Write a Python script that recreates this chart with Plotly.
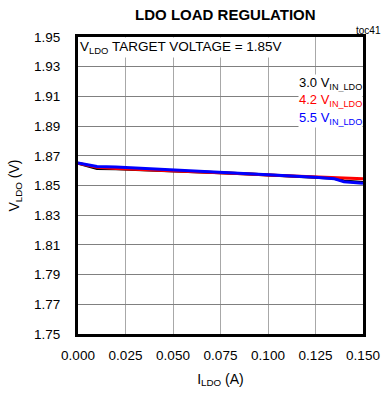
import plotly.graph_objects as go

i_ldo = [0.000, 0.005, 0.010, 0.020, 0.030, 0.040, 0.050, 0.060, 0.075, 0.090, 0.100, 0.110, 0.125, 0.135, 0.140, 0.150]
v_30 = [1.8650, 1.8630, 1.8615, 1.8612, 1.8608, 1.8603, 1.8598, 1.8592, 1.8586, 1.8578, 1.8572, 1.8566, 1.8558, 1.8548, 1.8530, 1.8520]
v_42 = [1.8650, 1.8635, 1.8622, 1.8614, 1.8609, 1.8605, 1.8601, 1.8597, 1.8588, 1.8577, 1.8570, 1.8565, 1.8559, 1.8554, 1.8550, 1.8545]
v_55 = [1.8652, 1.8640, 1.8628, 1.8625, 1.8619, 1.8610, 1.8604, 1.8596, 1.8588, 1.8580, 1.8572, 1.8565, 1.8556, 1.8545, 1.8525, 1.8515]

series = [("3.0", v_30, "black"), ("4.2", v_42, "red"), ("5.5", v_55, "blue")]
x_ticks = [0.000, 0.025, 0.050, 0.075, 0.100, 0.125, 0.150]
y_ticks = [1.75, 1.77, 1.79, 1.81, 1.83, 1.85, 1.87, 1.89, 1.91, 1.93, 1.95]

fig = go.Figure()
for name, v, c in series:
    fig.add_trace(go.Scatter(x=i_ldo, y=v, mode="lines", line=dict(color=c, width=3),
                             name=name, showlegend=False))

font = "Liberation Sans, Arial, sans-serif"
fig.update_layout(
    width=392, height=397,
    margin=dict(l=76, r=17, t=37, b=61),
    paper_bgcolor="white", plot_bgcolor="white",
    font=dict(family=font, size=13, color="black"),
    title=dict(text="<b>LDO LOAD REGULATION</b>", xref="paper", x=0.517, xanchor="center",
               yref="container", y=0.962, yanchor="middle", font=dict(size=15, family=font)),
)
fig.update_xaxes(range=[0, 0.15], tickvals=x_ticks, ticktext=[f"{t:.3f}" for t in x_ticks],
                 showgrid=True, gridcolor="#a8a8a8", gridwidth=1.3,
                 showline=True, linecolor="black", linewidth=3, mirror=True,
                 ticks="outside", ticklen=7, tickcolor="rgba(0,0,0,0)", tickfont=dict(size=13.5),
                 title=dict(text="I<sub>LDO</sub> (A)", font=dict(size=14), standoff=12),
                 zeroline=False)
fig.update_yaxes(range=[1.75, 1.95], tickvals=y_ticks, ticktext=[f"{t:.2f}" for t in y_ticks],
                 showgrid=True, gridcolor="#808080", gridwidth=1.3,
                 showline=True, linecolor="black", linewidth=3, mirror=True,
                 ticks="outside", ticklen=12, tickcolor="rgba(0,0,0,0)", tickfont=dict(size=13.5),
                 title=dict(text="V<sub>LDO</sub> (V)", font=dict(size=14), standoff=12),
                 zeroline=False)

fig.add_annotation(xref="paper", yref="paper", x=1.07, y=1.023, xanchor="right", yanchor="middle",
                   text="toc41", showarrow=False, font=dict(size=10))
fig.add_annotation(xref="paper", yref="paper", x=0.0, y=0.965, xanchor="left", yanchor="middle",
                   text="V<sub>LDO</sub> TARGET VOLTAGE = 1.85V", showarrow=False,
                   font=dict(size=13.5), bgcolor="white")
ly = [0.845, 0.785, 0.725]
for (name, v, c), yy in zip(series, ly):
    fig.add_annotation(xref="paper", yref="paper", x=1.0, y=yy, xanchor="right", yanchor="middle",
                       text=f"{name} V<sub>IN_LDO</sub>", showarrow=False,
                       font=dict(size=13, color=c), bgcolor="white", borderpad=0)

fig.write_html("out.html", config={"displayModeBar": False},
               post_script="document.body.style.margin='0';")
